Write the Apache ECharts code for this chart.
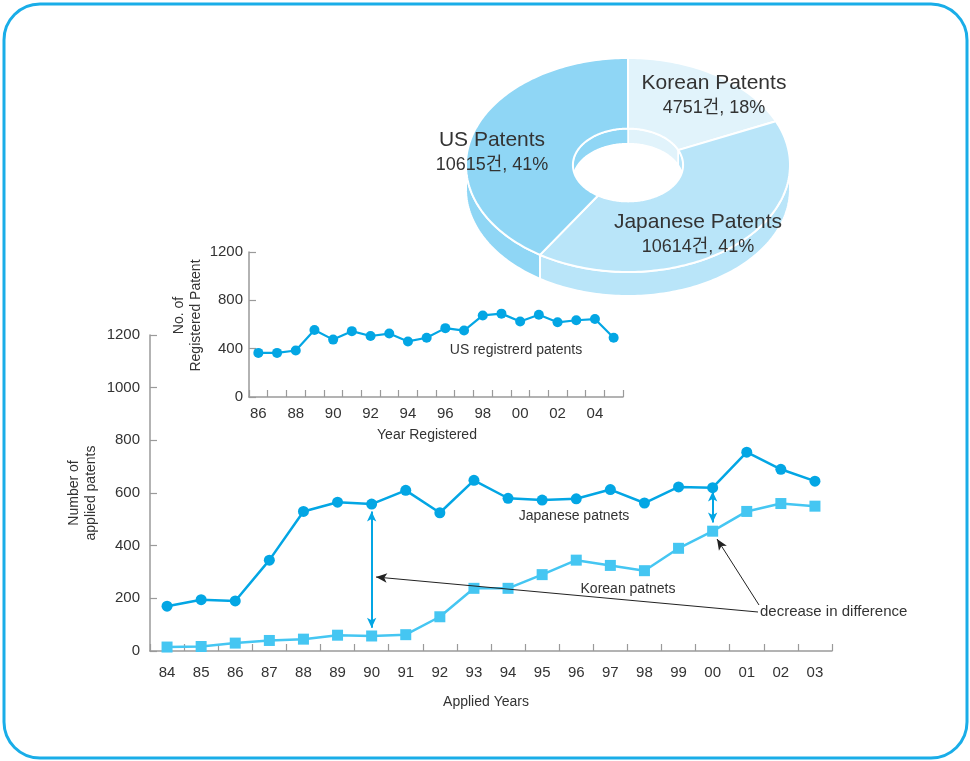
<!DOCTYPE html>
<html><head><meta charset="utf-8">
<script src="https://cdn.jsdelivr.net/npm/echarts@6/dist/echarts.min.js"></script>
<style>html,body{margin:0;padding:0;background:#fff}#c{width:970px;height:761px}</style>
</head><body><div id="c"></div>
<script>
// ---------- data ----------
const appliedYears = ['84','85','86','87','88','89','90','91','92','93','94','95','96','97','98','99','00','01','02','03'];
const japaneseApplied = [170,195,190,345,530,565,558,610,525,648,580,573,578,613,562,623,620,755,690,645];
const koreanApplied   = [15,17,30,40,45,60,57,62,130,238,238,290,345,325,305,390,455,530,560,550];
const registeredYears = ['86','87','88','89','90','91','92','93','94','95','96','97','98','99','00','01','02','03','04','05'];
const usRegistered    = [365,365,385,555,475,545,505,525,460,490,570,550,675,690,625,680,618,635,645,490];
const pieNames  = ['Korean Patents','Japanese Patents','US Patents'];
const pieValues = [4751,10614,10615];
const pieUnit = '건';

// ---------- styles ----------
const FONT = "'Liberation Sans','Noto Sans CJK KR',sans-serif";
const TXT = '#333';
const AXC = '#9a9a9a';
const JP = '#03a6e4';
const KR = '#45c6f2';
const pieColors = ['#e1f3fb','#b9e5f9','#8fd6f5'];
const PIE = {cx:628, cy:165, rx:162, ry:107, k:0.34, T:24, t:15};
const total = pieValues.reduce((a,b)=>a+b,0);
const pct = v => Math.round(v/total*100) + '%';

function pt(th,k,dy){return [PIE.cx+PIE.rx*k*Math.sin(th), PIE.cy-PIE.ry*k*Math.cos(th)+(dy||0)];}
function arc(a,b,k,dy){const n=Math.max(2,Math.ceil(Math.abs(b-a)/0.02));const o=[];for(let i=0;i<=n;i++)o.push(pt(a+(b-a)*i/n,k,dy));return o;}

function renderPie(params, api){
  const i = params.dataIndex;
  let s = 0; for (let j=0;j<i;j++) s += pieValues[j];
  const a = s/total*2*Math.PI, b = (s+api.value(0))/total*2*Math.PI;
  const style = {fill:pieColors[i], stroke:'#fff', lineWidth:2};
  const ch = [];
  const s0 = Math.max(a,Math.PI/2), s1 = Math.min(b,1.5*Math.PI);
  if (s1 > s0) ch.push({type:'polygon', shape:{points:arc(s0,s1,1,0).concat(arc(s1,s0,1,PIE.T))}, style});
  for (const r of [[0,Math.PI/2],[1.5*Math.PI,2*Math.PI]]) {
    const w0 = Math.max(a,r[0]), w1 = Math.min(b,r[1]);
    if (w1 > w0) {
      const top = arc(w0,w1,PIE.k,0);
      const bot = arc(w1,w0,PIE.k,0).map(p=>[p[0], Math.min(p[1]+PIE.t, 2*PIE.cy-p[1])]);
      ch.push({type:'polygon', shape:{points:top.concat(bot)}, style:{fill:pieColors[i], stroke:'#fff', lineWidth:1.5}});
    }
  }
  ch.push({type:'polygon', shape:{points:arc(a,b,1,0).concat(arc(b,a,PIE.k,0))}, style});
  return {type:'group', children:ch};
}

const chart = echarts.init(document.getElementById('c'), null, {renderer:'canvas'});

const axisLine = {show:true, lineStyle:{color:AXC, width:1.5}};
const axisTick = {show:true, inside:true, length:7, lineStyle:{color:AXC, width:1.2}};
const lbl = (size, margin) => ({color:TXT, fontSize:size, fontFamily:FONT, margin, formatter:v=>String(v)});
const nameStyle = (pad) => ({color:TXT, fontSize:14, fontFamily:FONT, lineHeight:17, padding:pad});

const pieLabelPos = [[714,83,108],[698,222,247],[492,140,165]];
const graphics = [
  {type:'rect', shape:{x:4, y:4, width:963, height:754, r:36}, style:{fill:'none', stroke:'#19ade8', lineWidth:3}},
  {type:'text', x:516, y:350, style:{text:'US registrerd patents', font:'14px '+FONT, fill:TXT, align:'center', verticalAlign:'middle'}},
  {type:'text', x:574, y:516, style:{text:'Japanese patnets', font:'14px '+FONT, fill:TXT, align:'center', verticalAlign:'middle'}},
  {type:'text', x:628, y:589, style:{text:'Korean patnets', font:'14px '+FONT, fill:TXT, align:'center', verticalAlign:'middle'}},
  {type:'text', x:760, y:612, style:{text:'decrease in difference', font:'15px '+FONT, fill:TXT, align:'left', verticalAlign:'middle'}}
];
pieNames.forEach((n,i)=>{
  const p = pieLabelPos[i];
  graphics.push({type:'text', z:10, x:p[0], y:p[1], style:{text:n, font:'21px '+FONT, fill:TXT, align:'center', verticalAlign:'middle'}});
  graphics.push({type:'text', z:10, x:p[0], y:p[2], style:{text:pieValues[i]+pieUnit+', '+pct(pieValues[i]), font:'18px '+FONT, fill:TXT, align:'center', verticalAlign:'middle'}});
});

chart.setOption({
  animation:false,
  backgroundColor:'#fff',
  grid:[
    {left:150, right:138, top:335, bottom:110},
    {left:249, right:347, top:252, bottom:364}
  ],
  xAxis:[
    {type:'category', gridIndex:0, data:appliedYears, boundaryGap:true,
     axisLine, axisTick:Object.assign({interval:0}, axisTick), axisLabel:Object.assign(lbl(15,14), {interval:0}),
     name:'Applied Years', nameLocation:'middle', nameGap:43, nameMoveOverlap:false, nameTextStyle:nameStyle([0,10,0,0])},
    {type:'category', gridIndex:1, data:registeredYears, boundaryGap:true,
     axisLine, axisTick:Object.assign({interval:0}, axisTick), axisLabel:Object.assign(lbl(15,9), {interval:1}),
     name:'Year Registered', nameLocation:'middle', nameGap:30, nameMoveOverlap:false, nameTextStyle:nameStyle([0,18,0,0])}
  ],
  yAxis:[
    {type:'value', gridIndex:0, min:0, max:1200, interval:200, splitLine:{show:false},
     axisLine, axisTick, axisLabel:lbl(15,10),
     name:'Number of\napplied patents', nameLocation:'middle', nameRotate:90, nameGap:50, nameMoveOverlap:false, nameTextStyle:nameStyle([0,0,0,0])},
    {type:'value', gridIndex:1, min:0, max:1200, interval:400, splitLine:{show:false},
     axisLine, axisTick, axisLabel:lbl(15,6),
     name:'No. of\nRegistered Patent', nameLocation:'middle', nameRotate:90, nameGap:44, nameMoveOverlap:false, nameTextStyle:nameStyle([0,0,0,18])}
  ],
  series:[
    {type:'custom', coordinateSystem:'none', data:pieValues.map(v=>[v]), renderItem:renderPie, silent:true, z:1},
    {type:'line', name:'US registered', xAxisIndex:1, yAxisIndex:1, data:usRegistered,
     symbol:'circle', symbolSize:10, lineStyle:{color:JP, width:2.2}, itemStyle:{color:JP}, z:3},
    {type:'line', name:'Korean patents', xAxisIndex:0, yAxisIndex:0, data:koreanApplied,
     symbol:'rect', symbolSize:11, lineStyle:{color:KR, width:2.5}, itemStyle:{color:KR}, z:3,
     markLine:{silent:true, symbol:['arrow','none'], symbolSize:[7,11], label:{show:false},
       lineStyle:{color:'#222', width:1, type:'solid'},
       data:[
         [{x:376, y:577}, {x:758, y:612}],
         [{x:717, y:539}, {x:759, y:605}]
       ]}},
    {type:'line', name:'Japanese patents', xAxisIndex:0, yAxisIndex:0, data:japaneseApplied,
     symbol:'circle', symbolSize:11, lineStyle:{color:JP, width:2.5}, itemStyle:{color:JP}, z:4,
     markLine:{silent:true, symbol:['arrow','arrow'], symbolSize:[7,10], label:{show:false},
       lineStyle:{color:JP, width:2, type:'solid'},
       data:[
         [{coord:['90',530]}, {coord:['90',88]}],
         [{coord:['00',606]}, {coord:['00',488]}]
       ]}}
  ],
  graphic:graphics
});
</script>
</body></html>
